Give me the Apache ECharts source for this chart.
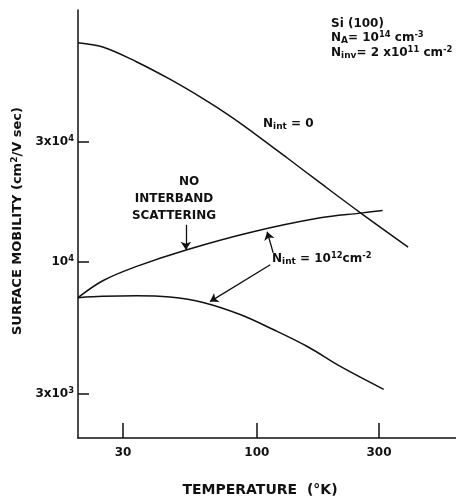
<!DOCTYPE html>
<html>
<head>
<meta charset="utf-8">
<script src="https://cdn.jsdelivr.net/npm/echarts@6/dist/echarts.min.js"></script>
<style>
  html, body { margin: 0; padding: 0; background: #fff; }
  #chart { width: 456px; height: 497px; }
</style>
</head>
<body>
<div id="chart"></div>
<script>
// temperature (K) / surface mobility (cm2/V s)
const tempNint0 = [20, 25, 33.8, 45.7, 61.6, 78.6, 96.7, 131.5, 177, 254, 390];
const mobNint0 = [74200, 71300, 62330, 53120, 44470, 37920, 32620, 25850, 20580, 15660, 11450];

const tempNoInter = [20, 25, 33.9, 53.3, 94.1, 177, 254, 310];
const mobNoInter = [7215, 8420, 9600, 11180, 13090, 14960, 15620, 15990];

const tempNint12 = [20, 25, 33.9, 45.7, 61.6, 86, 115.8, 157.5, 212, 313];
const mobNint12 = [7215, 7300, 7340, 7250, 6900, 6180, 5390, 4615, 3847, 3120];

const xTicks = [30, 100, 300];
const yTicks = [3000, 10000, 30000];
const yTickLabels = ['3x10{sup|3}', '10{sup|4}', '3x10{sup|4}'];

// arrows (data coords) : [from, to]
const arrowNoInter = [[52.8, 14040], [52.8, 11180]];
const arrowUp = [[115.8, 10875], [109.7, 13170]];
const arrowDown = [[112.8, 9748], [65.6, 6957]];

const FONT = '"DejaVu Sans", sans-serif';
const ink = '#111';

const pairs = (xs, ys) => xs.map((x, i) => [x, ys[i]]);

const richTxt = (size) => ({
  sup: { fontSize: size * 0.7, fontFamily: FONT, fontWeight: 'bold', color: ink, verticalAlign: 'top', padding: [0, 0, size * 0.5, 0] },
  sub: { fontSize: size * 0.75, fontFamily: FONT, fontWeight: 'bold', color: ink, padding: [size * 0.5, 0, 0, 0] }
});

function label(text, x, y, align) {
  return {
    type: 'text',
    x: x,
    y: y,
    silent: true,
    style: {
      text: text,
      fill: ink,
      font: 'bold 12px ' + FONT,
      textAlign: align || 'left',
      textVerticalAlign: 'middle',
      rich: richTxt(12)
    }
  };
}

const chart = echarts.init(document.getElementById('chart'));

const lineStyle = { color: ink, width: 1.5 };

const option = {
  animation: false,
  backgroundColor: '#fff',
  grid: { left: 78, right: 0, top: 10, bottom: 59, containLabel: false, outerBoundsMode: 'none' },
  xAxis: {
    type: 'log',
    min: 20,
    max: 600,
    name: 'TEMPERATURE  (°K)',
    nameLocation: 'middle',
    nameGap: 45,
    nameTextStyle: { fontFamily: FONT, fontWeight: 'bold', fontSize: 14, color: ink, padding: [0, 14, 0, 0] },
    axisLine: { lineStyle: { color: ink, width: 1.5 } },
    axisTick: { inside: true, length: 15, customValues: xTicks, lineStyle: { color: ink, width: 1.5 } },
    axisLabel: {
      customValues: xTicks,
      margin: 9,
      fontFamily: FONT, fontWeight: 'bold', fontSize: 12, color: ink
    },
    splitLine: { show: false },
    minorTick: { show: false }
  },
  yAxis: {
    type: 'log',
    min: 2000,
    max: 100000,
    name: 'SURFACE MOBILITY (cm{sup|2}/V sec)',
    nameLocation: 'middle',
    nameGap: 46,
    nameTextStyle: { fontFamily: FONT, fontWeight: 'bold', fontSize: 13, color: ink, padding: [0, 0, 0, 6], rich: richTxt(13) },
    axisLine: { lineStyle: { color: ink, width: 1.5 } },
    axisTick: { inside: true, length: 11, customValues: yTicks, lineStyle: { color: ink, width: 1.5 } },
    axisLabel: {
      customValues: yTicks,
      margin: 4,
      fontFamily: FONT, fontWeight: 'bold', fontSize: 12, color: ink,
      formatter: (v) => {
        const i = yTicks.indexOf(Math.round(v));
        return i >= 0 ? yTickLabels[i] : '';
      },
      rich: richTxt(12)
    },
    splitLine: { show: false },
    minorTick: { show: false }
  },
  graphic: [
    label('Si (100)', 331, 24),
    label('N{sub|A}= 10{sup|14} cm{sup|-3}', 331, 38),
    label('N{sub|inv}= 2 x10{sup|11} cm{sup|-2}', 331, 53),
    label('N{sub|int} = 0', 263, 124),
    label('NO', 189, 182, 'center'),
    label('INTERBAND', 174, 199, 'center'),
    label('SCATTERING', 174, 216, 'center'),
    label('N{sub|int} = 10{sup|12}cm{sup|-2}', 272, 259)
  ],
  series: [
    {
      name: 'Nint = 0',
      type: 'line',
      data: pairs(tempNint0, mobNint0),
      smooth: 0.35,
      showSymbol: false,
      lineStyle: lineStyle,
      silent: true,
      markLine: {
        silent: true,
        symbol: ['none', 'arrow'],
        symbolSize: 8,
        label: { show: false },
        lineStyle: { color: ink, width: 1.3, type: 'solid' },
        data: [
          [{ coord: arrowNoInter[0] }, { coord: arrowNoInter[1] }],
          [{ coord: arrowUp[0] }, { coord: arrowUp[1] }],
          [{ coord: arrowDown[0] }, { coord: arrowDown[1] }]
        ]
      }
    },
    {
      name: 'No interband scattering',
      type: 'line',
      data: pairs(tempNoInter, mobNoInter),
      smooth: 0.35,
      showSymbol: false,
      lineStyle: lineStyle,
      silent: true
    },
    {
      name: 'Nint = 1e12',
      type: 'line',
      data: pairs(tempNint12, mobNint12),
      smooth: 0.35,
      showSymbol: false,
      lineStyle: lineStyle,
      silent: true
    }
  ]
};

chart.setOption(option);
</script>
</body>
</html>
